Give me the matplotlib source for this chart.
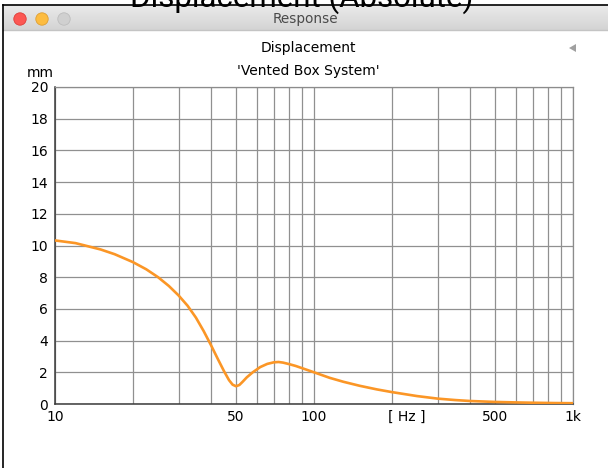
import matplotlib
matplotlib.use("Agg")
import matplotlib.pyplot as plt
import numpy as np
from matplotlib.colors import LinearSegmentedColormap
from matplotlib.patches import Circle, Polygon

# cone displacement
freq_hz = [10, 12, 15, 17, 20, 22.5, 25, 27.5, 30, 32.5, 35, 37.5, 40, 42.5,
           45, 47, 48.5, 50, 51.5, 53, 55, 58, 62, 66, 70, 73, 76, 80, 85, 90,
           100, 115, 130, 150, 175, 200, 250, 300, 350, 400, 500, 600, 700,
           850, 1000]
displacement_mm = [10.32, 10.15, 9.75, 9.45, 8.95, 8.5, 8.0, 7.45, 6.85, 6.2,
                   5.45, 4.6, 3.72, 2.85, 2.05, 1.5, 1.22, 1.12, 1.2, 1.4,
                   1.68, 2.0, 2.33, 2.53, 2.63, 2.65, 2.61, 2.52, 2.4, 2.26,
                   2.0, 1.65, 1.4, 1.15, 0.92, 0.75, 0.5, 0.34, 0.25, 0.19,
                   0.13, 0.1, 0.08, 0.06, 0.05]

x_ticks = [10, 50, 100, 500, 1000]
x_ticklabels = ["10", "50", "100", "500", "1k"]
x_grid = [20, 30, 40, 60, 70, 80, 90, 200, 300, 400, 600, 700, 800, 900]
y_ticks = list(range(0, 21, 2))

W, H = 608, 468
fig = plt.figure(figsize=(W / 100, H / 100), dpi=100)
fig.patch.set_facecolor("white")

# window chrome, drawn in pixel coordinates
bg = fig.add_axes([0, 0, 1, 1])
bg.set_xlim(0, W)
bg.set_ylim(H, 0)
bg.axis("off")
grad = np.linspace(0, 1, 50).reshape(-1, 1)
bar_cmap = LinearSegmentedColormap.from_list("bar", ["#ebebeb", "#d3d3d3"])
bg.imshow(grad, extent=(3, W, 30, 5), cmap=bar_cmap, aspect="auto", zorder=1)
bg.plot([3, W], [30, 30], color="#c4c4c4", lw=1, zorder=2)
bg.plot([3, W], [4.5, 4.5], color="black", lw=1.2, zorder=2)
bg.plot([3, 3], [4.5, H], color="black", lw=1.2, zorder=2)
for cx, fc, ec in [(20, "#fc5753", "#df3d39"), (42, "#fdbc40", "#de9f34"), (64, "#d0d0d0", "#bdbdbd")]:
    bg.add_patch(Circle((cx, 19), 6.2, facecolor=fc, edgecolor=ec, lw=0.6, zorder=3))
bg.text(305, 19.5, "Response", ha="center", va="center", fontsize=9.8,
        color="#4a4a4a", family="DejaVu Sans", zorder=3)
bg.add_patch(Polygon([[569, 48], [576, 44], [576, 52]], closed=True,
                     facecolor="#a0a0a0", edgecolor="none", zorder=3))
bg.text(308, 48, "Displacement", ha="center", va="center", fontsize=10,
        family="DejaVu Sans", zorder=3)
bg.text(308, 71, "'Vented Box System'", ha="center", va="center", fontsize=10,
        family="DejaVu Sans", zorder=3)
bg.text(40, 73, "mm", ha="center", va="center", fontsize=10,
        family="DejaVu Sans", zorder=3)
fig.text(302 / W, 1 - 6.5 / H, "Displacement (Absolute)", ha="center", va="baseline",
         fontsize=22.5, family=["Roboto", "DejaVu Sans"])

ax = fig.add_axes([55 / W, 1 - 404 / H, 518 / W, 317 / H])
ax.semilogx(freq_hz, displacement_mm, color="#fb9626", lw=1.9, zorder=3,
            solid_capstyle="round")
ax.set_xlim(10, 1000)
ax.set_ylim(0, 20)
ax.set_xticks(x_ticks)
ax.set_xticklabels(x_ticklabels)
ax.set_xticks(x_grid, minor=True)
ax.set_yticks(y_ticks)
ax.tick_params(axis="both", which="both", length=0, labelsize=10)
ax.tick_params(axis="x", pad=4)
ax.tick_params(axis="y", pad=5)
for lbl in ax.get_xticklabels() + ax.get_yticklabels():
    lbl.set_family("DejaVu Sans")
ax.grid(True, which="both", color="#909090", lw=0.9)
ax.set_axisbelow(True)
for side in ["top", "right"]:
    ax.spines[side].set_color("#8c8c8c")
    ax.spines[side].set_linewidth(0.9)
for side in ["left", "bottom"]:
    ax.spines[side].set_color("#3a3a3a")
    ax.spines[side].set_linewidth(1.1)
ax.text(228, -0.38, "[ Hz ]", ha="center", va="top", fontsize=10,
        family="DejaVu Sans")

fig.savefig("out.png", dpi=100)
